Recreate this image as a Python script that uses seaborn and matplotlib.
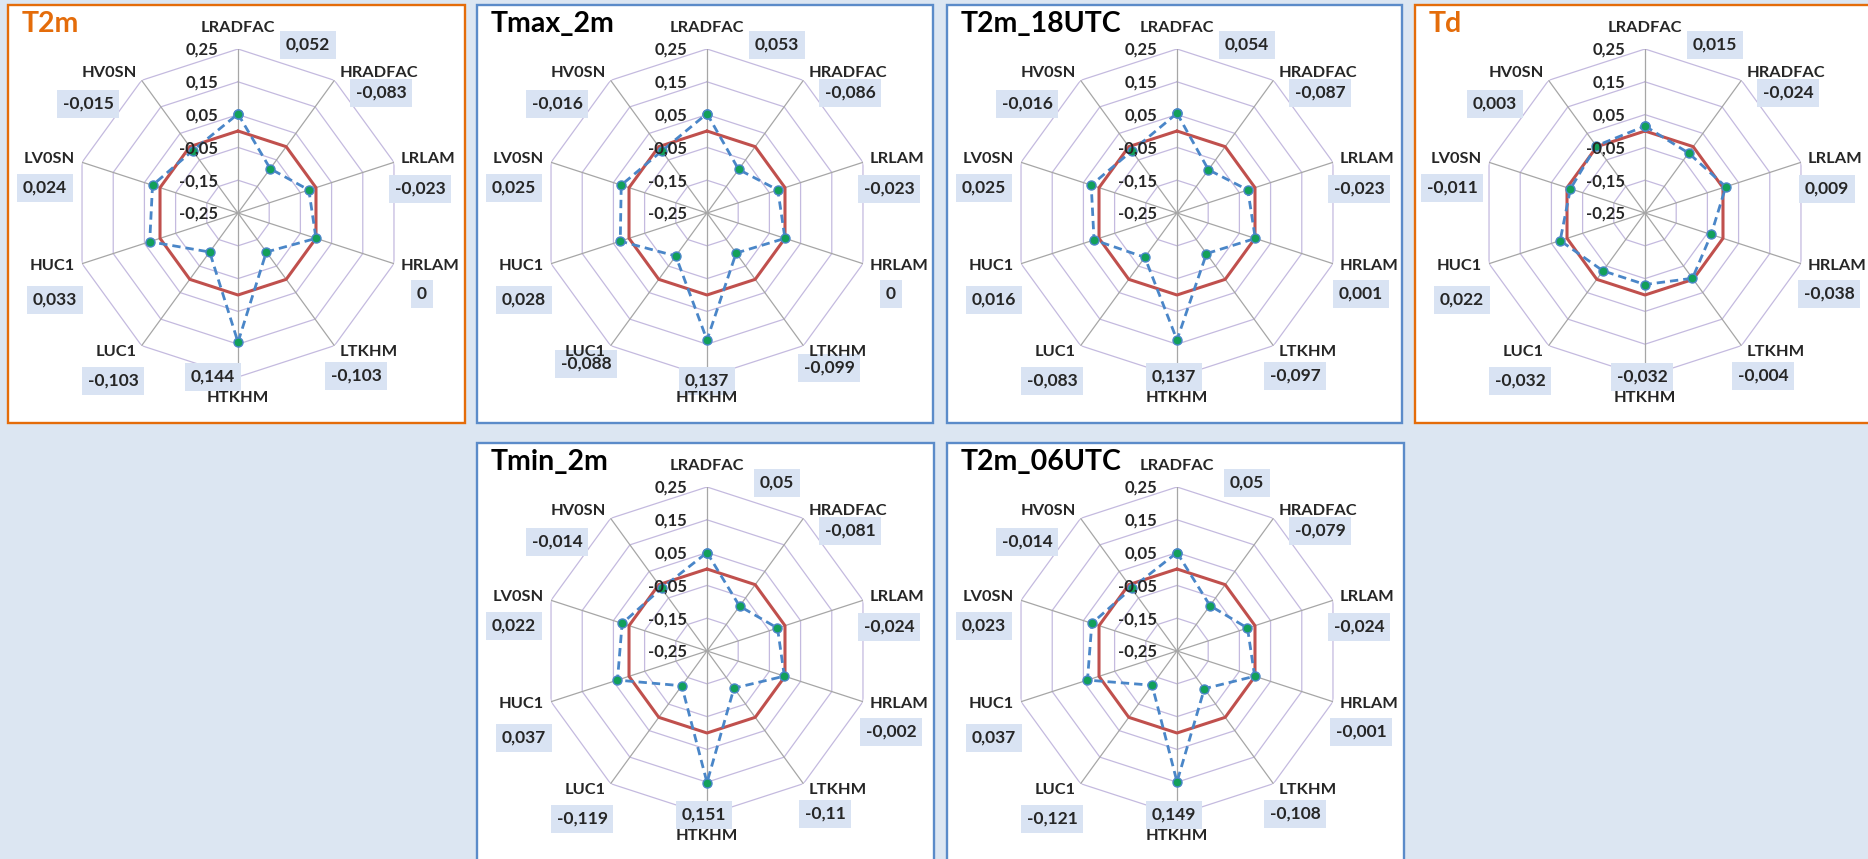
import numpy as np
import matplotlib.pyplot as plt
from matplotlib.patches import Rectangle
import seaborn as sns

# categories, clockwise from the top
categories = ['LRADFAC', 'HRADFAC', 'LRLAM', 'HRLAM', 'LTKHM',
              'HTKHM', 'LUC1', 'HUC1', 'LV0SN', 'HV0SN']

t2m = [0.052, -0.083, -0.023, 0, -0.103, 0.144, -0.103, 0.033, 0.024, -0.015]
tmax_2m = [0.053, -0.086, -0.023, 0, -0.099, 0.137, -0.088, 0.028, 0.025, -0.016]
t2m_18utc = [0.054, -0.087, -0.023, 0.001, -0.097, 0.137, -0.083, 0.016, 0.025, -0.016]
td = [0.015, -0.024, 0.009, -0.038, -0.004, -0.032, -0.032, 0.022, -0.011, 0.003]
tmin_2m = [0.05, -0.081, -0.024, -0.002, -0.11, 0.151, -0.119, 0.037, 0.022, -0.014]
t2m_06utc = [0.05, -0.079, -0.024, -0.001, -0.108, 0.149, -0.121, 0.037, 0.023, -0.014]

ring_ticks = [-0.25, -0.15, -0.05, 0.05, 0.15, 0.25]
zero_ref = 0.0

# colours
BG = '#dce6f2'
BOX = '#d9e3f3'
ORANGE = '#e46c0a'
BLUE_BORDER = '#5b8bc9'
RED = '#c0504d'
BLUE = '#4a86c8'
GREEN = '#12a05a'
RING = '#c4badf'
SPOKE = '#a6a6a6'

W, H = 1868, 859


def fx(px):
    return px / W


def fy(py):
    return 1 - py / H


def fmt_val(v):
    return ('%g' % v).replace('.', ',')


# value-label offsets from the radar centre (pixels, y down)
value_offsets = {
    'LRADFAC': (70, -168), 'HRADFAC': (143, -120), 'LRLAM': (182, -24),
    'HRLAM': (184, 81), 'LTKHM': (118, 163), 'HTKHM': (-3, 164),
    'LUC1': (-125, 168), 'HUC1': (-183, 87), 'LV0SN': (-193, -25),
    'HV0SN': (-150, -109),
}
# a few labels sit elsewhere in single panels
offset_fixes = {
    'T2m': {'HTKHM': (-25, 164)},
    'Tmax_2m': {'LUC1': (-121, 151), 'LTKHM': (122, 155), 'HTKHM': (0, 168)},
}

# name, values, border colour, title colour, panel (left, top, width, height)
panels = [
    ('T2m', t2m, ORANGE, ORANGE, (8, 5, 457, 418)),
    ('Tmax_2m', tmax_2m, BLUE_BORDER, 'black', (477, 5, 456, 418)),
    ('T2m_18UTC', t2m_18utc, BLUE_BORDER, 'black', (947, 5, 455, 418)),
    ('Td', td, ORANGE, ORANGE, (1415, 5, 470, 418)),
    ('Tmin_2m', tmin_2m, BLUE_BORDER, 'black', (477, 443, 457, 440)),
    ('T2m_06UTC', t2m_06utc, BLUE_BORDER, 'black', (947, 443, 457, 440)),
]

sns.set_style('white')
plt.rcParams['font.family'] = ['Lato', 'DejaVu Sans']

fig = plt.figure(figsize=(W / 100, H / 100), dpi=100, facecolor=BG)

n = len(categories)
theta = np.linspace(0, 2 * np.pi, n, endpoint=False)
theta_c = np.append(theta, 2 * np.pi)
R = 164

for name, vals, border, tcolor, (left, top, w, h) in panels:
    fig.add_artist(Rectangle((fx(left), fy(top + h)), w / W, h / H,
                             transform=fig.transFigure, facecolor='white',
                             edgecolor=border, lw=1.7, zorder=-5))
    fig.text(fx(left + 14), fy(top + 6), name, color=tcolor, fontsize=20.5,
             fontweight='bold', ha='left', va='top')

    cx, cy = left + 230, top + 208
    ax = fig.add_axes([fx(cx - R), fy(cy + R), 2 * R / W, 2 * R / H],
                      projection='polar')
    ax.set_theta_zero_location('N')
    ax.set_theta_direction(-1)

    # polygon grid
    for t in ring_ticks[1:]:
        ax.plot(theta_c, [t] * (n + 1), color=RING, lw=0.9, zorder=1)
    for th in theta:
        ax.plot([th, th], [ring_ticks[0], ring_ticks[-1]], color=SPOKE,
                lw=0.9, zorder=1)

    # zero reference
    ax.plot(theta_c, [zero_ref] * (n + 1), color=RED, lw=2.2, zorder=3)

    vals_c = list(vals) + [vals[0]]
    sns.lineplot(x=theta_c, y=vals_c, ax=ax, color=BLUE, lw=2,
                 linestyle=(0, (3, 1.8)), marker='o', markersize=6.5,
                 markerfacecolor=GREEN, markeredgecolor=BLUE,
                 markeredgewidth=1, sort=False, zorder=4)

    ax.set_ylim(ring_ticks[0], ring_ticks[-1])
    ax.grid(False)
    ax.set_xticks([])
    ax.set_yticks([])
    ax.set_xlabel('')
    ax.set_ylabel('')
    ax.spines['polar'].set_visible(False)
    ax.patch.set_visible(False)

    # radial tick labels
    for t in ring_ticks:
        ax.annotate(('%.2f' % t).replace('.', ','), xy=(0, t),
                    xytext=(-20, -1), textcoords='offset pixels',
                    ha='right', va='center', fontsize=12,
                    fontweight='bold', annotation_clip=False, zorder=5)

    # category labels
    for i, cat in enumerate(categories):
        deg = 36 * i
        s, c = np.sin(np.radians(deg)), np.cos(np.radians(deg))
        if abs(s) < 0.1:
            ha = 'center'
            dx, dy = 0, (14 if c > 0 else -14)
            va = 'bottom' if c > 0 else 'top'
        else:
            ha = 'left' if s > 0 else 'right'
            if abs(c) > 0.5:
                dx = 5 * np.sign(s)
                dy = 0 if c > 0 else 1
                va = 'bottom' if c > 0 else 'top'
            else:
                dx = 7 * np.sign(s)
                dy = 3 if c > 0 else -2
                va = 'center'
        ax.annotate(cat, xy=(theta[i], ring_ticks[-1]), xytext=(dx, dy),
                    textcoords='offset pixels', ha=ha, va=va, fontsize=11.8,
                    fontweight='bold', annotation_clip=False, zorder=8)

    # value labels
    fixes = offset_fixes.get(name, {})
    for i, cat in enumerate(categories):
        ox, oy = fixes.get(cat, value_offsets[cat])
        ax.annotate(fmt_val(vals[i]), xy=(0, ring_ticks[0]), xytext=(ox, -oy),
                    textcoords='offset pixels', ha='center', va='center',
                    fontsize=12.5, fontweight='bold', annotation_clip=False,
                    bbox=dict(boxstyle='square,pad=0.32', fc=BOX, ec='none'),
                    zorder=6)

fig.savefig('out.png', dpi=100, facecolor=BG)
